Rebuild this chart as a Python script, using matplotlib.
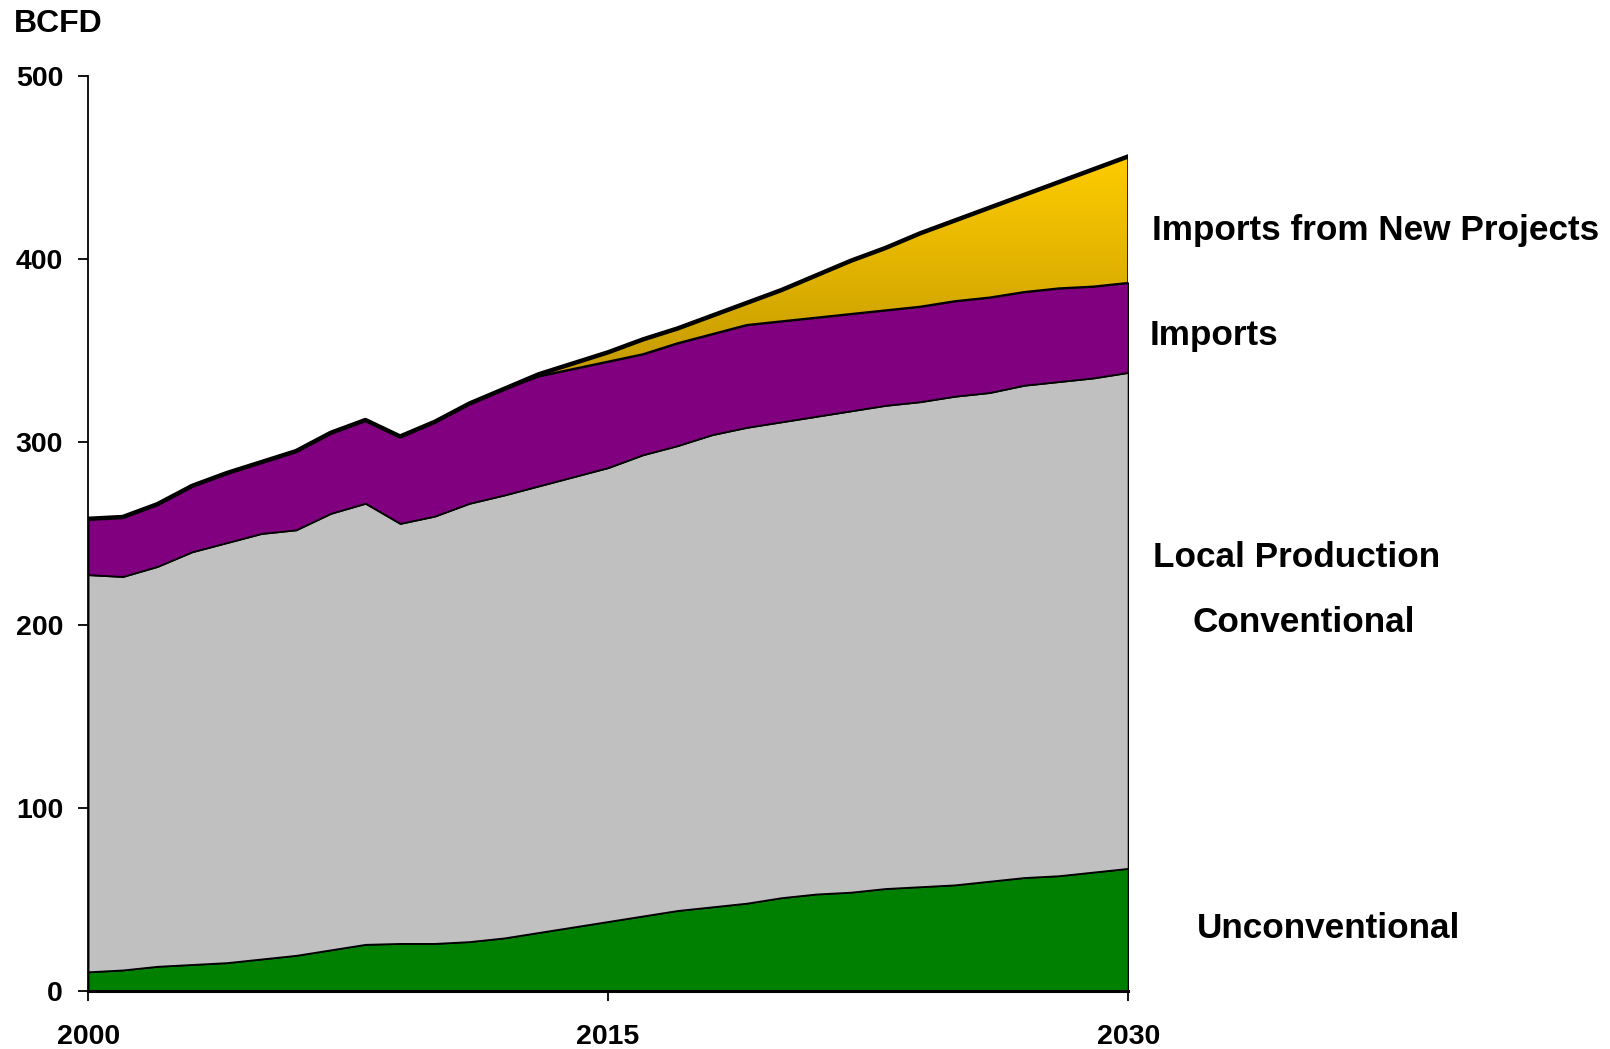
import numpy as np
import matplotlib
matplotlib.use('Agg')
import matplotlib.pyplot as plt
from matplotlib.colors import LinearSegmentedColormap

# Dados (BCFD)
years = np.arange(2000, 2031)
unconventional = [10.5, 11.5, 13.5, 14.5, 15.5, 17.5, 19.5, 22.5, 25.5, 26, 26,
                  27, 29, 32, 35, 38, 41, 44, 46, 48, 51,
                  53, 54, 56, 57, 58, 60, 62, 63, 65, 67]
conventional = [217, 215, 218.5, 225.5, 229.5, 232.5, 232.5, 238.5, 241, 229.5, 233.5,
                239.5, 242, 244, 246, 248, 252, 254, 258, 260, 260,
                261, 263, 264, 265, 267, 267, 269, 270, 270, 271]
imports = [30.5, 32.5, 34, 36, 38, 39, 43, 44, 45.5, 47.5, 51.5,
           54.5, 58, 60, 59, 58, 55, 56, 55, 56, 55,
           54, 53, 52, 52, 52, 52, 51, 51, 50, 49]
new_projects = [0, 0, 0, 0, 0, 0, 0, 0, 0, 0, 0,
                0, 0, 1, 3, 5, 8, 8, 10, 12, 17,
                23, 29, 34, 40, 44, 49, 53, 58, 64, 69]

labels = ['Imports from New Projects', 'Imports', 'Local Production',
          'Conventional', 'Unconventional']

plt.rcParams['font.family'] = ['Liberation Sans', 'DejaVu Sans']
plt.rcParams['font.weight'] = 'bold'

fig = plt.figure(figsize=(16.1, 10.49), dpi=100)
ax = fig.add_axes([0.0547, 0.0553, 0.6460, 0.8723])

# camadas empilhadas
y1 = np.array(unconventional)
y2 = y1 + np.array(conventional)
y3 = y2 + np.array(imports)
y4 = y3 + np.array(new_projects)

edge = dict(edgecolor='black', linewidth=1.3)
ax.fill_between(years, 0, y1, facecolor='#008000', **edge, zorder=2)
ax.fill_between(years, y1, y2, facecolor='#C0C0C0', **edge, zorder=2)
ax.fill_between(years, y2, y3, facecolor='#800080', **edge, zorder=2)

# novos projetos: gradiente dourado
gold = ax.fill_between(years, y3, y4, facecolor='none', **edge, zorder=4)
mask = np.array(new_projects) > 0
lo, hi = y3[mask].min(), y4.max()
grad = np.linspace(0, 1, 256).reshape(-1, 1)
cmap = LinearSegmentedColormap.from_list('gold', ['#C49A00', '#FFCC00'])
im = ax.imshow(grad, extent=[years[0], years[-1], lo, hi], aspect='auto',
               origin='lower', cmap=cmap, zorder=3)
im.set_clip_path(gold.get_paths()[0], transform=ax.transData)

# linha total
ax.plot(years, y4, color='black', linewidth=3.2, solid_capstyle='round',
        solid_joinstyle='round', zorder=5)

ax.set_xlim(2000, 2030)
ax.set_ylim(0, 500)
ax.set_xticks([2000, 2015, 2030])
ax.set_yticks([0, 100, 200, 300, 400, 500])
ax.spines['top'].set_visible(False)
ax.spines['right'].set_visible(False)
ax.spines['left'].set_linewidth(1.3)
ax.spines['bottom'].set_linewidth(2.2)
ax.tick_params(axis='y', length=7, width=1.3, pad=11, labelsize=20.5)
ax.tick_params(axis='x', length=7, width=1.3, pad=17, labelsize=20.5)
for t in ax.get_xticklabels() + ax.get_yticklabels():
    t.set_fontweight('bold')

# textos
W, H = 1610, 1049
fig.text(14 / W, 1 - 31.7 / H, 'BCFD', fontsize=23, fontweight='bold', va='baseline')
pos = [(1152, 240), (1150, 345), (1153, 566.7), (1192, 631.7), (1197, 938.3)]
for lab, (px, py) in zip(labels, pos):
    fig.text(px / W, 1 - py / H, lab, fontsize=25.3, fontweight='bold',
             va='baseline', ha='left')

plt.savefig('out.png', dpi=100)
